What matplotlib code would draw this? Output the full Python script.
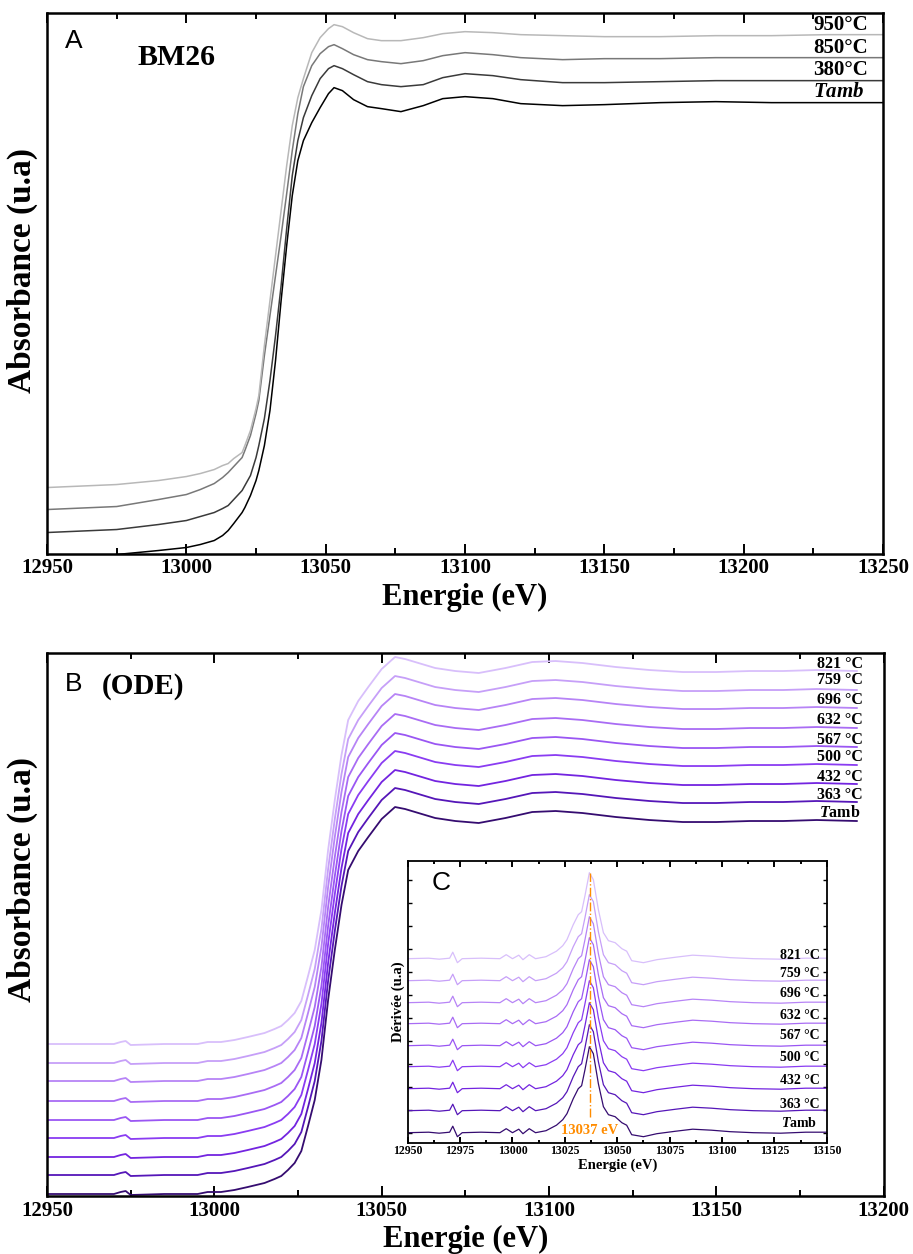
import matplotlib
matplotlib.use('Agg')
import matplotlib.pyplot as plt
from matplotlib.ticker import MultipleLocator

plt.rcParams['font.family'] = ['Liberation Serif', 'DejaVu Serif']
plt.rcParams['font.weight'] = 'bold'
plt.rcParams['mathtext.fontset'] = 'custom'
plt.rcParams['mathtext.it'] = 'Liberation Serif:italic:bold'
plt.rcParams['mathtext.rm'] = 'Liberation Serif:bold'

# ---- panel A : BM26 (absorbance, u.a.)
E_A = [12950, 12975, 12990, 13000, 13005, 13010, 13013, 13015, 13017, 13020,
       13021, 13023, 13025, 13026, 13028, 13030, 13032, 13034, 13036, 13038,
       13040, 13042, 13045, 13048, 13051, 13053, 13056, 13060, 13065, 13070,
       13077, 13085, 13092, 13100, 13110, 13120, 13135, 13150, 13170, 13190,
       13210, 13230, 13250]
A_tamb = [-9, -1, 3, 6, 9, 13, 18, 23, 30, 41, 46, 58, 73, 83, 108, 143, 193, 253,
          308, 358, 393, 413, 431, 446, 460, 466, 463, 454, 447, 445, 442, 448,
          455, 457, 455, 450, 448, 449, 451, 452, 451, 451, 451]
A_380 = [21, 24, 29, 33, 37, 41, 45, 48, 54, 63, 68, 78, 96, 108, 135, 173, 218,
         268, 325, 378, 413, 436, 458, 475, 485, 488, 485, 479, 472, 469, 467, 469,
         476, 480, 478, 474, 471, 471, 472, 473, 473, 473, 473]
A_850 = [44, 47, 54, 59, 64, 70, 76, 81, 87, 96, 103, 118, 140, 153, 198, 238, 278,
         318, 360, 403, 440, 467, 488, 500, 507, 509, 505, 499, 494, 492, 490, 493,
         498, 501, 499, 496, 494, 495, 495, 496, 496, 496, 496]
A_950 = [66, 69, 73, 77, 80, 84, 88, 90, 95, 101, 108, 123, 145, 158, 208, 253, 298,
         343, 388, 428, 456, 475, 501, 516, 525, 529, 527, 521, 515, 513, 513, 516,
         520, 522, 521, 519, 518, 517, 517, 518, 518, 519, 519]
curves_A = [A_tamb, A_380, A_850, A_950]
colors_A = ['#000000', '#3a3a3a', '#787878', '#b8b8b8']
labels_A = ['Tamb', '380°C', '850°C', '950°C']
label_y_A = [0.853, 0.894, 0.935, 0.977]

# ---- panel B : ODE (absorbance, stacked)
E_B = [12950, 12960, 12970, 12972, 12973.5, 12975, 12985, 12995, 12998, 13002,
       13006, 13010, 13015, 13018, 13020, 13022, 13024, 13026, 13028, 13030,
       13032, 13034, 13036, 13038, 13040, 13043, 13046, 13050, 13054, 13057,
       13061, 13066, 13072, 13079, 13087, 13095, 13102, 13110, 13120, 13130,
       13140, 13150, 13160, 13170, 13180, 13192]
B_base = [2, 2, 2, 4, 5, 1, 2, 2, 4, 4, 6, 9, 13, 17, 20, 26, 33, 45, 70, 96, 136,
          196, 246, 291, 326, 345, 359, 377, 389, 387, 383, 378, 375, 373, 378,
          384, 385, 383, 379, 376, 374, 374, 375, 375, 376, 375]
temps = ['Tamb', '363 °C', '432 °C', '500 °C', '567 °C', '632 °C', '696 °C',
         '759 °C', '821 °C']
offsets_B = [0, 19, 37, 56, 74, 93, 113, 131, 150]
colors_B = ['#350c70', '#5516b8', '#7324e0', '#8a3cf2', '#9a56f3', '#a96cf4',
            '#b784f6', '#c69ff8', '#d8bffb']
label_y_B = [0.7053, 0.7390, 0.7716, 0.8090, 0.8398, 0.8760, 0.9129, 0.9503, 0.9803]

# ---- inset C : derivative
E_C = [12950, 12960, 12965, 12970, 12971.5, 12973.7, 12976, 12985, 12994, 12997,
       13000, 13003, 13005, 13008, 13011, 13016, 13021, 13024, 13026, 13029,
       13031.4, 13033, 13034.6, 13036.7, 13038.6, 13041, 13043.4, 13045.8, 13049,
       13052.2, 13054.5, 13056.9, 13062.5, 13068.9, 13078, 13086, 13095, 13104,
       13115, 13128, 13140, 13150]
C_base = [0, 0.5, -0.5, 0.5, 6.5, -4, 0, 0.5, 0, 4, 0, 3.5, -1, 4, 0, 2, 7.5, 13,
          19, 34, 44, 47, 63, 86, 79, 49, 26, 18, 16, 10, 7.5, -2, -4, -1, 1.5,
          3.5, 2.5, 1, 0, -0.5, 0.5, 0.5]
offsets_C = [0, 22, 44, 66, 87, 109, 130, 152, 174]
label_y_C = [0.0688, 0.1362, 0.2213, 0.3028, 0.3784, 0.4518, 0.5284, 0.6007, 0.6645]
E_peak = 13037


def tamb_label(italic_all=False):
    return r'$\mathit{Tamb}$' if italic_all else r'$\mathit{T}$amb'


def style_axis(ax, major, minor, size, tick_fs, lw=1.8):
    for s in ax.spines.values():
        s.set_linewidth(lw)
    ax.xaxis.set_major_locator(MultipleLocator(major))
    ax.xaxis.set_minor_locator(MultipleLocator(minor))
    ax.tick_params(axis='x', which='both', direction='in', top=True,
                   width=1.4, labelsize=tick_fs)
    ax.tick_params(axis='x', which='major', length=size)
    ax.tick_params(axis='x', which='minor', length=size * 0.6)
    for t in ax.get_xticklabels():
        t.set_fontweight('bold')


fig = plt.figure(figsize=(9.13, 12.54), dpi=100)

# panel A
axA = fig.add_axes([0.0515, 0.5586, 0.9157, 0.4313])
for ys, c in zip(curves_A, colors_A):
    axA.plot(E_A, ys, color=c, lw=1.1)
axA.set_xlim(12950, 13250)
axA.set_ylim(0, 541)
axA.set_yticks([])
style_axis(axA, 50, 25, 7, 15)
axA.set_xlabel('Energie (eV)', fontsize=22, fontweight='bold', labelpad=3)
axA.set_ylabel('Absorbance (u.a)', fontsize=24, fontweight='bold')
axA.yaxis.set_label_coords(-0.011, 0.524)
for lab, yy in zip(labels_A, label_y_A):
    txt = tamb_label(True) if lab == 'Tamb' else lab
    axA.text(0.9163, yy, txt, transform=axA.transAxes, fontsize=15,
             fontweight='bold', ha='left', va='center')
axA.text(0.0215, 0.947, 'A', transform=axA.transAxes, fontsize=19,
         family='Liberation Sans', fontweight='normal', ha='left', va='center')
axA.text(0.1077, 0.918, 'BM26', transform=axA.transAxes, fontsize=21.5,
         fontweight='bold', ha='left', va='center')

# panel B
axB = fig.add_axes([0.0515, 0.04625, 0.9163, 0.4330])
for off, c in zip(offsets_B, colors_B):
    axB.plot(E_B, [v + off for v in B_base], color=c, lw=1.3)
axB.set_xlim(12950, 13200)
axB.set_ylim(0, 543)
axB.set_yticks([])
style_axis(axB, 50, 25, 7, 15)
axB.set_xlabel('Energie (eV)', fontsize=22, fontweight='bold', labelpad=3)
axB.set_ylabel('Absorbance (u.a)', fontsize=24, fontweight='bold')
axB.yaxis.set_label_coords(-0.011, 0.582)
for lab, yy in zip(temps, label_y_B):
    txt = tamb_label() if lab == 'Tamb' else lab
    axB.text(0.948, yy, txt, transform=axB.transAxes, fontsize=11.5,
             fontweight='bold', ha='center', va='center')
axB.text(0.0215, 0.943, 'B', transform=axB.transAxes, fontsize=19,
         family='Liberation Sans', fontweight='normal', ha='left', va='center')
axB.text(0.0654, 0.939, '(ODE)', transform=axB.transAxes, fontsize=21,
         fontweight='bold', ha='left', va='center')

# inset C
axC = fig.add_axes([0.4466, 0.08876, 0.4589, 0.2249])
for off, c in zip(offsets_C, colors_B):
    axC.plot(E_C, [v + off for v in C_base], color=c, lw=0.9)
axC.plot([E_peak, E_peak], [16, 260], color='#ff8c00', lw=1.0, ls='-.')
axC.text(E_peak, 1.7, '13037 eV', color='#ff8c00', fontsize=10.5,
         fontweight='bold', ha='center', va='center')
axC.set_xlim(12950, 13150)
axC.set_ylim(-10, 272)
style_axis(axC, 25, 12.5, 4, 8.5, lw=1.3)
axC.yaxis.set_major_locator(MultipleLocator(23))
axC.tick_params(axis='y', which='both', direction='in', right=True,
                labelleft=False, length=3, width=1.0)
axC.tick_params(axis='x', pad=2)
axC.set_xlabel('Energie (eV)', fontsize=10.5, fontweight='bold', labelpad=1)
axC.set_ylabel('Dérivée (u.a)', fontsize=10.5, fontweight='bold', labelpad=2)
for lab, yy in zip(temps, label_y_C):
    txt = tamb_label() if lab == 'Tamb' else lab
    axC.text(0.935, yy, txt, transform=axC.transAxes, fontsize=10,
             fontweight='bold', ha='center', va='center')
axC.text(0.057, 0.921, 'C', transform=axC.transAxes, fontsize=19,
         family='Liberation Sans', fontweight='normal', ha='left', va='center')

fig.savefig('out.png', dpi=100)
